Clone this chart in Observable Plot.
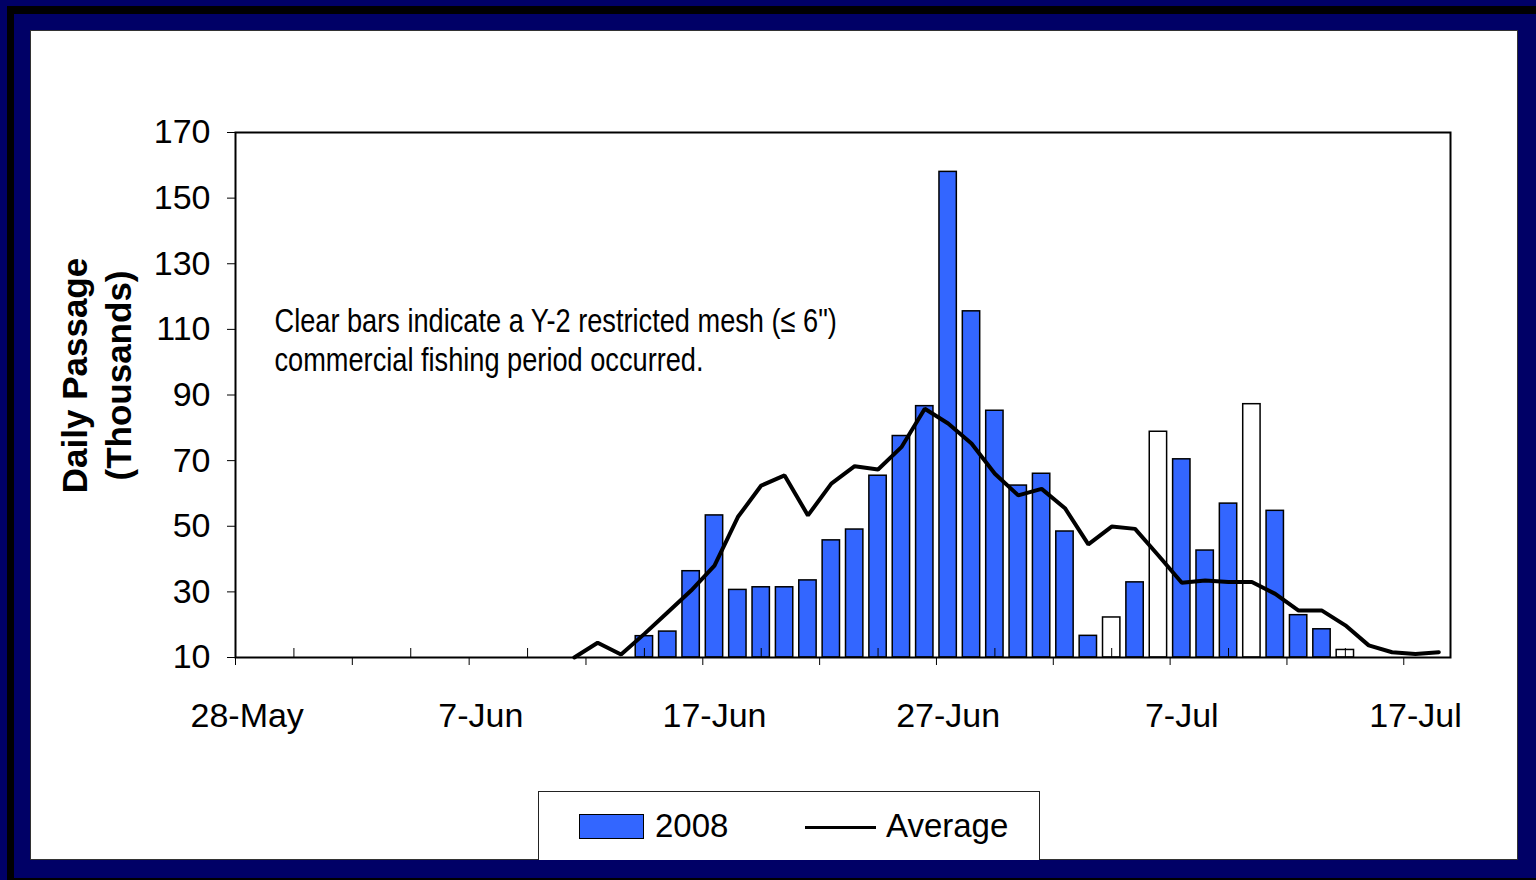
<!DOCTYPE html>
<html>
<head>
<meta charset="utf-8">
<script src="https://cdn.jsdelivr.net/npm/d3@7"></script>
<script src="https://cdn.jsdelivr.net/npm/@observablehq/plot@0.6"></script>
<style>
  html, body { margin: 0; padding: 0; }
  body { width: 1536px; height: 880px; background: #000066; position: relative; overflow: hidden;
         font-family: "Liberation Sans", Arial, sans-serif; }
  #shadow { position: absolute; left: 7px; top: 6px; right: 0; bottom: 0; background: #000; }
  #navy { position: absolute; left: 14px; top: 14px; right: 0; bottom: 2px; background: #000066; }
  #panel { position: absolute; left: 30px; top: 30px; width: 1488px; height: 830px; background: #fff;
           box-sizing: border-box; border: 1px solid #333; }
  #chart { position: absolute; left: 30px; top: 30px; }
  #legend { position: absolute; left: 538px; top: 791px; width: 502px; height: 69px; background: #fff;
            box-sizing: border-box; border: 1px solid #222; border-bottom: none; }
  #legend .sw { position: absolute; left: 40px; top: 22px; width: 65px; height: 25px; background: #3366ff;
                box-sizing: border-box; border: 1.5px solid #000; }
  #legend .ln { position: absolute; left: 266px; top: 34px; width: 71px; height: 3px; background: #000; }
  #legend .t { position: absolute; top: 15px; font-size: 33px; line-height: 38px; color: #000; }
</style>
</head>
<body>
<div id="shadow"></div>
<div id="navy"></div>
<div id="panel"></div>
<div id="chart"></div>
<div id="legend">
  <div class="sw"></div><span class="t" style="left:116px">2008</span>
  <div class="ln"></div><span class="t" style="left:347px">Average</span>
</div>
<script>
// ---------------- data ----------------
const startDate = "2008-05-28";
const dayCount = 52; // 28-May .. 18-Jul

// Daily passage 2008 (thousands), one value per day from startDate
const passage2008 = [
  null, null, null, null, null, null, null, null, null, null,
  null, null, null, null, null, null, null, 16.5, 17.9, 36.3,
  53.3, 30.6, 31.4, 31.4, 33.5, 45.7, 49.0, 65.4, 77.5, 86.6,
  158.0, 115.5, 85.2, 62.4, 66.0, 48.4, 16.6, 22.2, 32.9, 78.8,
  70.4, 42.6, 56.9, 87.2, 54.7, 22.9, 18.6, 12.3, null, null,
  null, null
];

// Average daily passage (thousands)
const averagePassage = [
  null, null, null, null, null, null, null, null, null, null,
  null, null, null, null, 10.0, 14.5, 10.9, 17.2, 23.8, 30.4,
  38.0, 52.8, 62.4, 65.5, 53.3, 63.0, 68.3, 67.3, 74.1, 85.8,
  81.3, 75.2, 66.0, 59.4, 61.4, 55.5, 44.5, 49.9, 49.2, 41.1,
  32.8, 33.5, 33.0, 33.0, 29.4, 24.3, 24.3, 19.8, 13.7, 11.6,
  11.1, 11.6
];

// Days with a Y-2 restricted mesh commercial period (clear bars)
const restrictedDays = ["2008-07-04", "2008-07-06", "2008-07-10", "2008-07-14"];

const yTicks = [10, 30, 50, 70, 90, 110, 130, 150, 170];
const xLabelDays = ["2008-05-28", "2008-06-07", "2008-06-17", "2008-06-27", "2008-07-07", "2008-07-17"];
const yTitle = "Daily Passage\n(Thousands)";
const note = "Clear bars indicate a Y-2 restricted mesh (\u2264 6\")\ncommercial fishing period occurred.";

// ---------------- build ----------------
const parse = d3.utcParse("%Y-%m-%d");
const fmt = d3.utcFormat("%Y-%m-%d");
const start = parse(startDate);
const end = d3.utcDay.offset(start, dayCount);
const days = d3.range(dayCount).map(i => d3.utcDay.offset(start, i));

const bars = days.map((d, i) => ({date: d, next: d3.utcDay.offset(d, 1), value: passage2008[i],
                                  clear: restrictedDays.includes(fmt(d))}))
                 .filter(d => d.value != null);
const avg = days.map((d, i) => ({date: d3.utcHour.offset(d, 12), value: averagePassage[i]}))
                .filter(d => d.value != null);

const majorTicks = d3.utcDay.range(start, end, 1).filter((d, i) => i % 5 === 0);
const minorTicks = majorTicks.map(d => d3.utcHour.offset(d, 60)).filter(d => d < end);
const labelTicks = xLabelDays.map(s => d3.utcHour.offset(parse(s), 12));

const yMin = 10;
const H = 730, mT = 102, mB = 103;
const plotH = H - mT - mB;

const chart = Plot.plot({
  width: 1488,
  height: H,
  marginLeft: 205,
  marginRight: 68,
  marginTop: mT,
  marginBottom: mB,
  style: {background: "transparent", fontFamily: "'Liberation Sans', Arial, sans-serif", color: "black", overflow: "visible"},
  x: {type: "utc", domain: [start, end]},
  y: {domain: [10, 170]},
  marks: [
    Plot.rectY(bars.filter(d => !d.clear), {x1: "date", x2: "next", y1: yMin, y2: "value",
      fill: "#3366ff", stroke: "black", strokeWidth: 1.5, insetLeft: 3, insetRight: 3}),
    Plot.rectY(bars.filter(d => d.clear), {x1: "date", x2: "next", y1: yMin, y2: "value",
      fill: "white", stroke: "black", strokeWidth: 1.5, insetLeft: 3, insetRight: 3}),
    Plot.ruleX(minorTicks, {x: d => d, insetTop: plotH - 9, stroke: "black", strokeWidth: 1}),
    Plot.line(avg, {x: "date", y: "value", stroke: "black", strokeWidth: 4, strokeLinejoin: "miter"}),
    Plot.frame({stroke: "black", strokeWidth: 2}),
    Plot.axisY({ticks: yTicks, tickSize: 8, tickPadding: 17, fontSize: 34, label: null, strokeWidth: 1}),
    Plot.axisX({ticks: majorTicks, tickSize: 8, tickFormat: () => "", label: null, strokeWidth: 1}),
    Plot.axisX({ticks: labelTicks, tickSize: 0, tickPadding: 45, tickFormat: "%-d-%b", fontSize: 34, label: null}),
    Plot.text([note], {text: d => d, frameAnchor: "top-left", dx: 39, dy: 172, fontSize: 34,
      lineHeight: 1.15, textAnchor: "start", fill: "black"}),
    Plot.text([yTitle], {text: d => d, frameAnchor: "left", rotate: -90, dx: -141, dy: -19.5,
      fontSize: 35, fontWeight: "bold", lineHeight: 1.27, textAnchor: "middle", fill: "black"})
  ]
});

// narrow the annotation text horizontally (condensed face in the original)
chart.querySelectorAll("text").forEach(t => {
  if (!t.textContent.startsWith("Clear bars")) return;
  const tr = t.getAttribute("transform");
  if (tr) t.setAttribute("transform", tr + " scale(0.8,1)");
  else {
    const x = +t.getAttribute("x") || 0, y = +t.getAttribute("y") || 0;
    t.removeAttribute("x"); t.removeAttribute("y");
    t.setAttribute("transform", `translate(${x},${y}) scale(0.8,1)`);
  }
});

document.getElementById("chart").appendChild(chart);
</script>
</body>
</html>
